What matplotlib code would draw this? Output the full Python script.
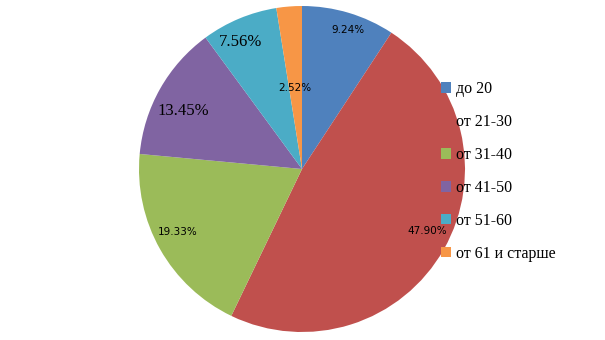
import matplotlib.pyplot as plt
from matplotlib.patches import Patch

categories = ['до 20', 'от 21-30', 'от 31-40', 'от 41-50', 'от 51-60', 'от 61 и старше']
values = [9.24, 47.90, 19.33, 13.45, 7.56, 2.52]
colors = ['#4F81BD', '#C0504D', '#9BBB59', '#8064A2', '#4BACC6', '#F79646']

# label placement in pixels (x, y from top), font family and size
label_pos = [(348, 30), (427, 231), (178, 232), (183, 111), (241, 42), (295, 88)]
label_font = [('DejaVu Sans', 7.5), ('DejaVu Sans', 7.5), ('DejaVu Sans', 7.5),
              ('Liberation Serif', 12), ('Liberation Serif', 12), ('DejaVu Sans', 7.5)]

W, H = 605, 340
fig = plt.figure(figsize=(W / 100, H / 100), dpi=100)
ax = fig.add_axes([0, 0, 1, 1])

ax.pie(values, colors=colors, startangle=90, counterclock=False,
       center=(302, H - 169), radius=163, frame=True)
ax.set_xlim(0, W)
ax.set_ylim(0, H)
ax.set_aspect('equal')
ax.axis('off')

for v, (x, y), (fam, fs) in zip(values, label_pos, label_font):
    ax.text(x, H - y, f'{v:.2f}%', ha='center', va='center', family=fam, fontsize=fs, color='black')

handles = [Patch(facecolor=c, edgecolor='none') for c in colors]
fig.legend(handles, categories, loc='upper left', bbox_to_anchor=(441 / W, 1 - 81 / H),
           frameon=False, prop={'family': 'Liberation Serif', 'size': 11.5},
           handlelength=0.65, handleheight=0.65, handletextpad=0.3, labelspacing=1.06,
           borderpad=0, borderaxespad=0)

plt.savefig('out.png', dpi=100)
